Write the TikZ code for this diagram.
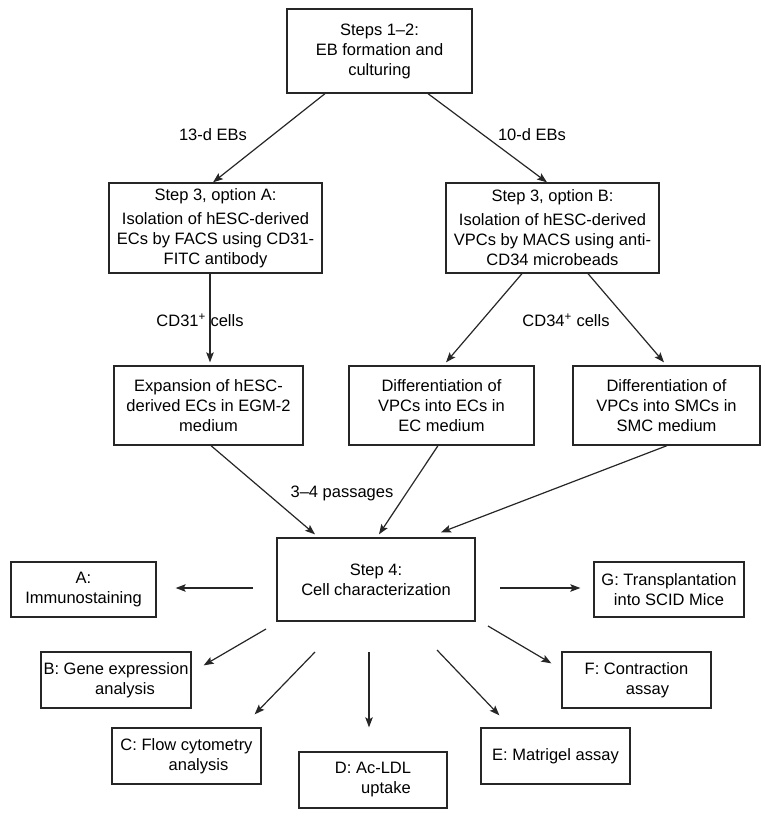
\documentclass[tikz,border=0pt]{standalone}
\usepackage{fontspec}
\setmainfont{Liberation Sans}
\usetikzlibrary{arrows.meta,calc}
\begin{document}
\begin{tikzpicture}[x=1pt,y=-1pt,
  box/.style={draw=black!85,line width=1.3pt,rectangle,inner sep=0pt,align=center,
    font=\fontsize{16.5}{20}\selectfont},
  lbl/.style={inner sep=0pt,font=\fontsize{16.5}{20}\selectfont},
  arr/.style={draw=black!85,line width=1.2pt,-{Stealth[length=10pt,width=7.5pt,inset=2pt]}}]
\useasboundingbox (0,0) rectangle (764,818);
% boxes
\node[box,minimum width=185pt,minimum height=84pt] (top) at (379.5,51) {Steps 1–2:\\EB formation and\\culturing};
\node[box,minimum width=213pt,minimum height=90pt] (s3a) at (215.5,228) {Step 3, option A:\\[4pt]Isolation of hESC-derived\\ECs by FACS using CD31-\\FITC antibody};
\node[box,minimum width=213pt,minimum height=90pt] (s3b) at (552.5,228) {Step 3, option B:\\[4pt]Isolation of hESC-derived\\VPCs by MACS using anti-\\CD34 microbeads};
\node[box,minimum width=189pt,minimum height=79pt] (exp) at (208.5,405.5) {Expansion of hESC-\\derived ECs in EGM-2\\medium};
\node[box,minimum width=185pt,minimum height=79pt] (dec) at (441.5,405.5) {Differentiation of\\VPCs into ECs in\\EC medium};
\node[box,minimum width=187pt,minimum height=79pt] (dsmc) at (666.5,405.5) {\raisebox{-2pt}{}Differentiation of\\VPCs into SMCs in\\SMC medium};
\node[box,minimum width=198pt,minimum height=83pt] (s4) at (376,579.5) {Step 4:\\Cell characterization};
\node[box,minimum width=145pt,minimum height=55pt] (a) at (83.5,589.5) {A:\\Immunostaining};
\node[box,minimum width=150pt,minimum height=55pt] (g) at (669,589.5) {G: Transplantation\\into SCID Mice};
\node[box,minimum width=150pt,minimum height=56pt] (b) at (116,680) {B: Gene expression\\\hspace*{18pt}analysis};
\node[box,minimum width=149pt,minimum height=56pt] (c) at (186.5,756) {C: Flow cytometry\\\hspace*{24pt}analysis};
\node[box,minimum width=148pt,minimum height=56pt] (d) at (373,780) {D: Ac-LDL\\\hspace*{26pt}uptake};
\node[box,minimum width=149pt,minimum height=56pt] (e) at (555.5,756) {E: Matrigel assay};
\node[box,minimum width=149pt,minimum height=56pt] (f) at (636.5,680) {F: Contraction\\\hspace*{22pt}assay};
% labels
\node[lbl] (l13) at (213,135) {13-d EBs};
\node[lbl] (l10) at (532,135) {10-d EBs};
\node[lbl] (l31) at (200,320) {CD31\textsuperscript{+} cells};
\node[lbl] (l34) at (566,320) {CD34\textsuperscript{+} cells};
\node[lbl] (lp) at (342,493) {3–4 passages};
% arrows
\draw[arr] ($(top.south)+(-54.5,0)$) -- ($(s3a.north)+(-2.5,0)$);
\draw[arr] ($(top.south)+(48.5,0)$) -- ($(s3b.north)+(-5.5,0)$);
\draw[arr] ($(s3a.south)+(-5.5,0)$) -- ($(exp.north)+(1.5,-3)$);
\draw[arr] ($(s3b.south)+(-30.5,0)$) -- ($(dec.north)+(4.5,-3)$);
\draw[arr] ($(s3b.south)+(35.5,0)$) -- ($(dsmc.north)+(-2.5,-3)$);
\draw[arr] ($(exp.south)+(2.5,0)$) -- ($(s4.north)+(-61,-3)$);
\draw[arr] ($(dec.south)+(-3.5,0)$) -- ($(s4.north)+(3,-3)$);
\draw[arr] ($(dsmc.south)+(0.5,0)$) -- ($(s4.north)+(65,-5)$);
\draw[arr] ($(s4.center)+(-123,8.5)$) -- ($(a.east)+(19,-1.5)$);
\draw[arr] ($(s4.center)+(124,8.5)$) -- ($(g.west)+(-13,-1.5)$);
\draw[arr] ($(s4.center)+(-110,49.5)$) -- ($(b.north east)+(12,14)$);
\draw[arr] ($(s4.center)+(-61,72.5)$) -- ($(c.north east)+(-7,-13)$);
\draw[arr] ($(s4.center)+(-7,72.5)$) -- ($(d.north)+(-4,-24)$);
\draw[arr] ($(s4.center)+(61,70.5)$) -- ($(e.north west)+(19,-12)$);
\draw[arr] ($(s4.center)+(112,46.5)$) -- ($(f.north west)+(-10,12)$);
\end{tikzpicture}
\end{document}
